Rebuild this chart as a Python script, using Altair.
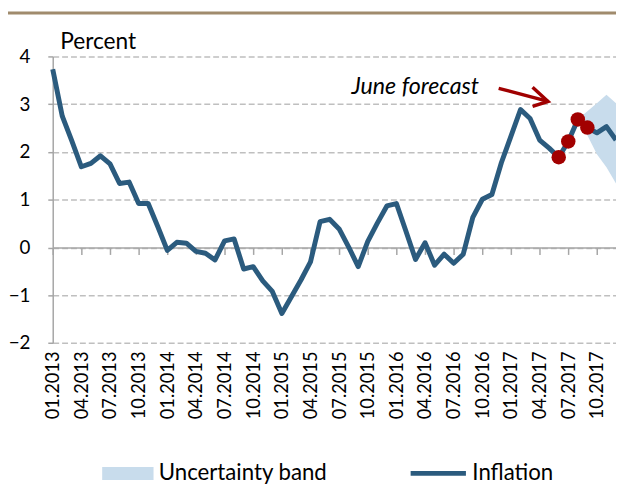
import json
import altair as alt
import pandas as pd

# ---- data -------------------------------------------------------------
months = [f"{m:02d}.{y}" for y in range(2013, 2018) for m in range(1, 13)]
inflation = [
    3.73, 2.75, 2.23, 1.69, 1.76, 1.92, 1.75, 1.34, 1.37, 0.92, 0.92, 0.44,
    -0.06, 0.11, 0.09, -0.08, -0.12, -0.26, 0.14, 0.18, -0.45, -0.40, -0.70, -0.92,
    -1.38, -1.03, -0.68, -0.30, 0.54, 0.59, 0.39, 0.01, -0.40, 0.13, 0.51, 0.87,
    0.92, 0.34, -0.25, 0.10, -0.37, -0.14, -0.33, -0.14, 0.63, 1.01, 1.11, 1.78,
    2.33, 2.89, 2.70, 2.25, 2.08, 1.89, 2.22, 2.68, 2.51, 2.40, 2.53, 2.25,
]
dot_idx = [53, 54, 55, 56]
band_idx = [55, 56, 57, 58, 59]
band_low = [2.68, 2.35, 1.95, 1.68, 1.34]
band_high = [2.68, 2.85, 3.02, 3.20, 3.02]
y_ticks = [-2, -1, 0, 1, 2, 3, 4]
x_ticks = list(range(0, 60, 3))

note_text = ["June forecast"]
note_x = [31.3]
note_y = [3.22]

arrow_seg = ["shaft", "shaft", "head", "head", "head"]
arrow_ord = [0, 1, 0, 1, 2]
arrow_x = [46.71, 51.88, 50.26, 51.88, 50.26]
arrow_y = [3.333, 3.058, 3.353, 3.058, 2.955]

# ---- styles -----------------------------------------------------------
W, H = 570.5, 290.3
LINE = "#2b5b7e"
DOT = "#a20000"
BAND = "#c8dcec"
GRID = "#bfbfbf"
AXIS = "#a6a6a6"
FONT = "Lato"

line_df = pd.DataFrame({"idx": list(range(len(inflation))), "value": inflation,
                        "series": "Inflation"})
dot_df = pd.DataFrame({"idx": dot_idx, "value": [inflation[i] for i in dot_idx]})
band_df = pd.DataFrame({"idx": band_idx, "low": band_low, "high": band_high,
                        "series": "Uncertainty band"})
note_df = pd.DataFrame({"x": note_x, "y": note_y, "t": note_text})
arrow_df = pd.DataFrame({"x": arrow_x, "y": arrow_y, "seg": arrow_seg, "ord": arrow_ord})

xscale = alt.Scale(domain=[0, 59], nice=False, zero=False)
yscale = alt.Scale(domain=[-2, 4], nice=False, zero=False)

label_expr = json.dumps(months) + "[datum.value]"
x_axis_bottom = alt.Axis(orient="bottom", values=x_ticks, labelExpr=label_expr,
                         labelAngle=270, labelFontSize=18.5, labelFont=FONT,
                         labelColor="black", labelPadding=8, ticks=False,
                         domain=False, grid=False, title=None, labelFlush=False,
                         labelOverlap=False)
x_axis_zero = alt.Axis(orient="bottom", values=x_ticks, labels=False, ticks=True,
                       tickSize=7, tickWidth=1.5, tickColor=AXIS, domain=True,
                       domainColor=AXIS, domainWidth=1.5, grid=False, title=None,
                       offset=-(H * 2 / 6))
y_axis = alt.Axis(values=y_ticks, grid=True, gridDash=[6, 3], gridColor=GRID,
                  gridWidth=1.5, domainColor=AXIS, domainWidth=1.5, tickColor=AXIS,
                  tickSize=5, tickWidth=1.5, labelFontSize=19, labelFont=FONT,
                  labelColor="black", labelPadding=18, title="Percent",
                  titleAngle=0, titleX=7, titleY=-8, titleAlign="left",
                  titleBaseline="alphabetic", titleFontSize=23,
                  titleFontWeight="normal", titleFont=FONT, titleColor="black")

band_legend = alt.Legend(title=None, orient="none", legendX=50.1, legendY=396.4,
                         symbolType="M-1,-0.25H1V0.25H-1Z", symbolSize=2704,
                         symbolStrokeWidth=0, labelFontSize=22.5, labelFont=FONT,
                         labelColor="black", labelOffset=5.3, labelLimit=400,
                         padding=0)
line_legend = alt.Legend(title=None, orient="none", legendX=360, legendY=391.8,
                         symbolType="stroke", symbolSize=3136, symbolStrokeWidth=5,
                         labelFontSize=22.5, labelFont=FONT, labelColor="black",
                         labelOffset=4, labelLimit=400, padding=0)

band = alt.Chart(band_df).mark_area(opacity=1).encode(
    x=alt.X("idx:Q", scale=xscale, axis=x_axis_zero),
    y=alt.Y("low:Q", scale=yscale, axis=y_axis),
    y2="high:Q",
    fill=alt.Fill("series:N", scale=alt.Scale(domain=["Uncertainty band"], range=[BAND]),
                  legend=band_legend),
)

line = alt.Chart(line_df).mark_line(strokeWidth=5, strokeJoin="round").encode(
    x=alt.X("idx:Q", scale=xscale, axis=x_axis_bottom),
    y=alt.Y("value:Q", scale=yscale, axis=y_axis),
    stroke=alt.Stroke("series:N", scale=alt.Scale(domain=["Inflation"], range=[LINE]),
                      legend=line_legend),
)

dots = alt.Chart(dot_df).mark_circle(size=215, opacity=1, color=DOT).encode(
    x=alt.X("idx:Q", scale=xscale, axis=None),
    y=alt.Y("value:Q", scale=yscale, axis=y_axis),
)

note = alt.Chart(note_df).mark_text(font=FONT, fontSize=23.5, fontStyle="italic",
                                    align="left", baseline="alphabetic",
                                    color="black").encode(
    x=alt.X("x:Q", scale=xscale, axis=None),
    y=alt.Y("y:Q", scale=yscale, axis=y_axis),
    text="t:N",
)

arrow = alt.Chart(arrow_df).mark_line(color="#a00000", strokeWidth=3.5,
                                      strokeJoin="miter").encode(
    x=alt.X("x:Q", scale=xscale, axis=None),
    y=alt.Y("y:Q", scale=yscale, axis=y_axis),
    detail="seg:N",
    order="ord:Q",
)

top_rule = alt.Chart(pd.DataFrame({"a": [0]})).mark_rule(
    color="#a08b6d", strokeWidth=3).encode(
    x=alt.value(-45.3), x2=alt.value(W), y=alt.value(-44))

chart = alt.layer(band, line, dots, note, arrow, top_rule).resolve_axis(
    x="independent").properties(
    width=W, height=H,
    autosize=alt.AutoSizeParams(type="none"),
    padding={"left": 45.3, "top": 46, "right": 0, "bottom": 139.7},
).configure_view(stroke=None)

chart.save("out.html", embed_options={"renderer": "svg", "actions": False})
